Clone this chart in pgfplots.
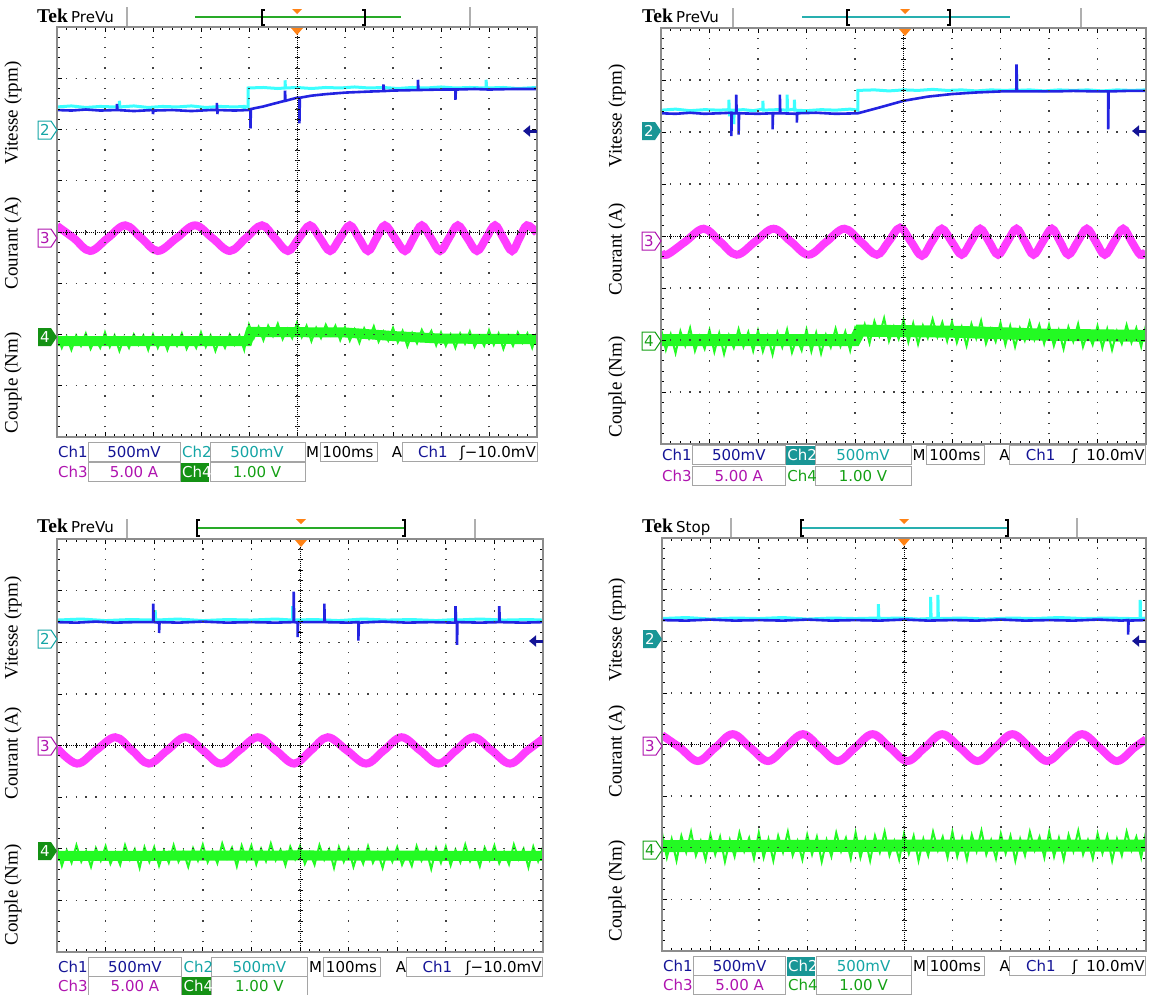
\documentclass[border=0pt]{standalone}
\usepackage{fontspec}
\setmainfont{Liberation Serif}
\newfontfamily\dvs{DejaVu Sans}
\usepackage{pgfplots}
\pgfplotsset{compat=1.18}
\usetikzlibrary{arrows.meta}

\definecolor{bordergray}{RGB}{140,140,140}
\definecolor{boxgray}{RGB}{165,165,165}
\definecolor{hdrgray}{RGB}{175,175,175}
\definecolor{ch1t}{RGB}{20,20,150}
\definecolor{ch2t}{RGB}{20,165,165}
\definecolor{ch3t}{RGB}{175,20,175}
\definecolor{ch4t}{RGB}{20,160,20}
\definecolor{ch2hl}{RGB}{25,150,150}
\definecolor{ch4hl}{RGB}{20,145,20}
\definecolor{bluetr}{RGB}{35,35,225}
\definecolor{cyantr}{RGB}{60,255,255}
\definecolor{magtr}{RGB}{255,60,255}
\definecolor{greentr}{RGB}{35,250,35}
\definecolor{tekorange}{RGB}{255,130,20}
\definecolor{hdrgreen}{RGB}{40,170,40}
\definecolor{hdrteal}{RGB}{40,175,175}

\newcommand{\tekfont}{\dvs\fontsize{15}{15}\selectfont}
\newcommand{\labfont}{\fontsize{19}{19}\selectfont}
\newcommand{\tekbig}{\bfseries\fontsize{19.5}{19.5}\selectfont}

\tikzset{tek/.style={font=\tekfont, inner sep=0pt, text height=11pt, text depth=0pt}}

\pgfplotsset{tekaxis/.style={
  scale only axis, xmin=0, xmax=10, ymin=-4, ymax=4,
  axis line style={draw=bordergray, line width=2.5pt},
  xtick={0,1,...,10}, ytick={-4,-3,...,4},
  minor x tick num=4, minor y tick num=4,
  xticklabels={}, yticklabels={},
  tick align=inside,
  major tick length=5pt, minor tick length=3pt,
  tick style={black, line width=0.7pt},
  grid=major,
  axis on top,
  clip=true,
}}

% info rows: #1 L, #2 scale, #3 Y1, #4 Y2, #5 mode (1: Ch4 highlighted, 2: Ch2 highlighted), #6 trigger text
\newcommand{\InfoRows}[6]{%
 \foreach \a/\b in {31/123,153/248,263/320,345/480}{%
  \draw[boxgray,line width=1pt,fill=white] ({#1+#2*\a},{-#3+9.5}) rectangle ({#1+#2*\b},{-#3-9.5});}
 \foreach \a/\b in {31/123,153/248}{%
  \draw[boxgray,line width=1pt,fill=white] ({#1+#2*\a},{-#4+9.5}) rectangle ({#1+#2*\b},{-#4-9.5});}
 \node[tek,anchor=west,text=ch1t] at ({#1+1},{-#3}) {Ch1};
 \node[tek,text=ch1t] at ({#1+#2*77},{-#3}) {500mV};
 \ifnum#5=2\relax
   \fill[ch2hl] ({#1+#2*124},{-#3+9.5}) rectangle ({#1+#2*152},{-#3-9.5});
   \node[tek,anchor=west,text=white] at ({#1+#2*124+1},{-#3}) {Ch2};
 \else
   \node[tek,anchor=west,text=ch2t] at ({#1+#2*124+1},{-#3}) {Ch2};
 \fi
 \node[tek,text=ch2t] at ({#1+#2*200},{-#3}) {500mV};
 \node[tek,anchor=west,text=black] at ({#1+#2*249},{-#3}) {M};
 \node[tek,text=black] at ({#1+#2*291},{-#3}) {100ms};
 \node[tek,text=black] at ({#1+#2*340},{-#3}) {A};
 \node[tek,anchor=west,text=ch1t] at ({#1+#2*361},{-#3}) {Ch1};
 \node[tek,anchor=east,text=black] at ({#1+#2*479},{-#3}) {#6};
 \node[tek,anchor=west,text=ch3t] at ({#1+1},{-#4}) {Ch3};
 \node[tek,text=ch3t] at ({#1+#2*77},{-#4}) {5.00 A};
 \ifnum#5=1\relax
   \fill[ch4hl] ({#1+#2*124},{-#4+9.5}) rectangle ({#1+#2*152},{-#4-9.5});
   \node[tek,anchor=west,text=white] at ({#1+#2*124+1},{-#4}) {Ch4};
 \else
   \node[tek,anchor=west,text=ch4t] at ({#1+#2*124+1},{-#4}) {Ch4};
 \fi
 \node[tek,text=ch4t] at ({#1+#2*200},{-#4}) {1.00 V};
}

% channel marker: #1 tip x, #2 y, #3 digit, #4 colour, #5 filled(1)/outline(0)
\newcommand{\ChMark}[5]{%
 \ifnum#5=1\relax
  \fill[#4] ({#1-19},{-#2+9}) -- ({#1-6},{-#2+9}) -- (#1,{-#2}) -- ({#1-6},{-#2-9}) -- ({#1-19},{-#2-9}) -- cycle;
  \node[tek,text=white] at ({#1-12},{-#2}) {#3};
 \else
  \draw[#4,line width=1pt,fill=white] ({#1-19},{-#2+9}) -- ({#1-6},{-#2+9}) -- (#1,{-#2}) -- ({#1-6},{-#2-9}) -- ({#1-19},{-#2-9}) -- cycle;
  \node[tek,text=#4] at ({#1-12},{-#2}) {#3};
 \fi}

% header: #1 Tek x, #2 baseline y, #3 status, #4 sep1, #5 sep2, #6 bottom y
\newcommand{\Header}[6]{%
 \node[anchor=base west,inner sep=0pt,font=\tekbig] at (#1,{-#2}) {Tek};
 \node[anchor=base west,inner sep=0pt,font=\tekfont] at ({#1+34},{-#2}) {#3};
 \draw[hdrgray,line width=1.2pt] (#4,{-#6+20}) -- (#4,{-#6}) -- (#5,{-#6}) -- (#5,{-#6+20});
}

\begin{document}
\begin{tikzpicture}[x=1pt,y=1pt]
\path[use as bounding box] (0,0) rectangle (1150,-994);

%================ PANEL 1 =================
\Header{37}{22}{PreVu}{127}{470}{27}
\draw[hdrgreen,line width=1.2pt] (195,-17) -- (401,-17);
\draw[black,line width=1.2pt] (265,-10) -- (262,-10) -- (262,-25) -- (265,-25);
\draw[black,line width=1.2pt] (362,-10) -- (365,-10) -- (365,-25) -- (362,-25);
\fill[tekorange] (292,-9) -- (302,-9) -- (297,-14) -- cycle;
\begin{axis}[tekaxis, at={(57pt,-27pt)}, anchor=north west, width=480pt, height=410pt,
  x grid style={black!75, line width=1.4pt, dash pattern=on 1.4pt off 8.85pt, dash phase=0.7pt},
  y grid style={black!75, line width=1.4pt, dash pattern=on 1.4pt off 8.2pt, dash phase=0.7pt}]
\addplot[greentr, line width=10pt] coordinates {(0,-2.13)(3.97,-2.13)(4.03,-1.95)(6.0,-1.96)(7.0,-2.03)(8.0,-2.08)(10,-2.09)};
\addplot[greentr, line width=2pt] coordinates {(0,-2.00)(0.1,-2.26)(0.2,-2.04)(0.3,-2.30)(0.4,-2.02)(0.5,-2.22)(0.6,-1.98)(0.7,-2.28)(0.8,-2.08)(0.9,-2.26)(1.0,-1.96)(1.1,-2.24)(1.2,-2.02)(1.3,-2.32)(1.4,-2.06)(1.5,-2.26)(1.6,-2.00)(1.7,-2.20)(1.8,-2.02)(1.9,-2.30)(2.0,-2.00)(2.1,-2.26)(2.2,-2.04)(2.3,-2.30)(2.4,-2.02)(2.5,-2.22)(2.6,-1.98)(2.7,-2.28)(2.8,-2.08)(2.9,-2.26)(3.0,-1.96)(3.1,-2.24)(3.2,-2.02)(3.3,-2.32)(3.4,-2.06)(3.5,-2.26)(3.6,-2.00)(3.7,-2.20)(3.8,-2.02)(3.9,-2.30)(4.0,-1.81)(4.1,-2.07)(4.2,-1.85)(4.3,-2.11)(4.4,-1.83)(4.5,-2.03)(4.6,-1.79)(4.7,-2.09)(4.8,-1.89)(4.9,-2.07)(5.0,-1.77)(5.1,-2.05)(5.2,-1.83)(5.3,-2.13)(5.4,-1.87)(5.5,-2.07)(5.6,-1.81)(5.7,-2.01)(5.8,-1.83)(5.9,-2.11)(6.0,-1.86)(6.1,-2.12)(6.2,-1.90)(6.3,-2.16)(6.4,-1.88)(6.5,-2.08)(6.6,-1.84)(6.7,-2.14)(6.8,-1.94)(6.9,-2.12)(7.0,-1.87)(7.1,-2.15)(7.2,-1.93)(7.3,-2.23)(7.4,-1.97)(7.5,-2.17)(7.6,-1.91)(7.7,-2.11)(7.8,-1.93)(7.9,-2.21)(8.0,-1.96)(8.1,-2.22)(8.2,-2.00)(8.3,-2.26)(8.4,-1.98)(8.5,-2.18)(8.6,-1.94)(8.7,-2.24)(8.8,-2.04)(8.9,-2.22)(9.0,-1.92)(9.1,-2.20)(9.2,-1.98)(9.3,-2.28)(9.4,-2.02)(9.5,-2.22)(9.6,-1.96)(9.7,-2.16)(9.8,-1.98)(9.9,-2.26)(10.0,-1.96)};
\addplot[magtr, line width=8pt, smooth, tension=0.6] coordinates {(0,0.12)(0.35,-0.12)(0.69,-0.37)(1.055,-0.12)(1.42,0.13)(1.76,-0.12)(2.10,-0.37)(2.49,-0.12)(2.875,0.13)(3.24,-0.12)(3.60,-0.37)(3.935,-0.12)(4.27,0.13)(4.54,-0.12)(4.81,-0.37)(5.04,-0.12)(5.27,0.13)(5.48,-0.12)(5.69,-0.37)(5.895,-0.12)(6.10,0.13)(6.29,-0.12)(6.48,-0.37)(6.655,-0.12)(6.83,0.13)(7.04,-0.12)(7.25,-0.37)(7.425,-0.12)(7.60,0.13)(7.79,-0.12)(7.98,-0.37)(8.165,-0.12)(8.35,0.13)(8.55,-0.12)(8.75,-0.37)(8.94,-0.12)(9.125,0.13)(9.30,-0.12)(9.48,-0.37)(9.635,-0.12)(9.79,0.13)(10,-0.02)};
\addplot[cyantr, line width=3pt] coordinates {(0,2.44)(0.3,2.46)(0.6,2.43)(0.9,2.45)(1.2,2.44)(1.3,2.44)(1.3,2.56)(1.31,2.44)(1.6,2.46)(1.9,2.43)(2.2,2.45)(2.5,2.44)(2.8,2.46)(3.1,2.43)(3.4,2.45)(3.7,2.44)(3.9,2.45)(3.9,2.36)(3.91,2.44)(3.98,2.44)(3.98,2.81)(4.3,2.82)(4.6,2.80)(4.75,2.81)(4.75,2.96)(4.76,2.81)(5.0,2.82)(5.3,2.80)(5.6,2.82)(5.9,2.81)(6.2,2.83)(6.5,2.81)(6.8,2.82)(7.1,2.80)(7.4,2.82)(7.7,2.81)(8.0,2.83)(8.3,2.81)(8.6,2.82)(8.94,2.81)(8.94,2.97)(8.95,2.81)(9.3,2.82)(9.6,2.80)(10,2.82)};
\addplot[bluetr, line width=2.6pt] coordinates {(0,2.38)(0.3,2.37)(0.6,2.39)(0.9,2.37)(1.25,2.38)(1.25,2.50)(1.26,2.38)(1.6,2.36)(2.0,2.38)(2.0,2.30)(2.01,2.37)(2.4,2.38)(2.8,2.36)(3.2,2.38)(3.33,2.38)(3.33,2.52)(3.34,2.37)(3.34,2.30)(3.35,2.38)(3.7,2.37)(3.98,2.38)(4.03,2.39)(4.03,2.02)(4.04,2.40)(4.3,2.45)(4.5,2.50)(4.75,2.56)(4.75,2.76)(4.76,2.56)(5.0,2.62)(5.05,2.62)(5.05,2.12)(5.06,2.62)(5.3,2.66)(5.6,2.69)(6.0,2.72)(6.5,2.74)(6.8,2.75)(6.8,2.88)(6.81,2.75)(7.0,2.76)(7.52,2.77)(7.52,2.97)(7.53,2.77)(8.0,2.78)(8.3,2.78)(8.3,2.58)(8.31,2.78)(8.7,2.79)(9.0,2.78)(9.5,2.79)(10,2.79)};
\draw[black, line width=1pt, dash pattern=on 1pt off 1pt] (axis cs:0,0) -- (axis cs:10,0);
\draw[black, line width=1pt, dash pattern=on 1pt off 1pt] (axis cs:5,-4) -- (axis cs:5,4);
\draw[black, line width=5pt, dash pattern=on 0.8pt off 8.8pt, dash phase=0.4pt] (axis cs:0,0) -- (axis cs:10,0);
\draw[black, line width=5pt, dash pattern=on 0.8pt off 9.45pt, dash phase=0.4pt] (axis cs:5,-4) -- (axis cs:5,4);
\end{axis}
\fill[tekorange] (291,-28) -- (303,-28) -- (297,-35) -- cycle;
\draw[ch1t, line width=3pt, -{Triangle[length=7pt,width=11pt]}] (537,-131) -- (523,-131);
\ChMark{57}{130}{2}{ch2t}{0}
\ChMark{57}{238}{3}{ch3t}{0}
\ChMark{57}{337}{4}{ch4hl}{1}
\node[rotate=90,font=\labfont] at (13,-113) {Vitesse (rpm)};
\node[rotate=90,font=\labfont] at (13,-243) {Courant (A)};
\node[rotate=90,font=\labfont] at (13,-383) {Couple (Nm)};
\InfoRows{57}{1}{452}{472}{1}{ʃ−10.0mV}

%================ PANEL 2 =================
\Header{642}{22}{PreVu}{733}{1081}{28}
\draw[hdrteal,line width=1.2pt] (802,-17) -- (1010,-17);
\draw[black,line width=1.2pt] (850,-10) -- (847,-10) -- (847,-25) -- (850,-25);
\draw[black,line width=1.2pt] (947,-10) -- (950,-10) -- (950,-25) -- (947,-25);
\fill[tekorange] (900,-9) -- (910,-9) -- (905,-14) -- cycle;
\begin{axis}[tekaxis, at={(661pt,-28pt)}, anchor=north west, width=485pt, height=416pt,
  x grid style={black!75, line width=1.4pt, dash pattern=on 1.4pt off 9.0pt, dash phase=0.7pt},
  y grid style={black!75, line width=1.4pt, dash pattern=on 1.4pt off 8.3pt, dash phase=0.7pt}]
\addplot[greentr, line width=12pt] coordinates {(0,-2.0)(4.0,-2.0)(4.1,-1.82)(6.0,-1.84)(8.0,-1.90)(10,-1.92)};
\addplot[greentr, line width=2pt] coordinates {(0,-1.79)(0.1,-2.19)(0.2,-1.89)(0.3,-2.25)(0.4,-1.83)(0.5,-2.11)(0.6,-1.77)(0.7,-2.21)(0.8,-1.93)(0.9,-2.17)(1.0,-1.81)(1.1,-2.23)(1.2,-1.87)(1.3,-2.27)(1.4,-1.91)(1.5,-2.15)(1.6,-1.79)(1.7,-2.13)(1.8,-1.85)(1.9,-2.21)(2.0,-1.82)(2.1,-2.22)(2.2,-1.92)(2.3,-2.28)(2.4,-1.86)(2.5,-2.14)(2.6,-1.80)(2.7,-2.24)(2.8,-1.96)(2.9,-2.20)(3.0,-1.80)(3.1,-2.22)(3.2,-1.86)(3.3,-2.26)(3.4,-1.90)(3.5,-2.14)(3.6,-1.78)(3.7,-2.12)(3.8,-1.84)(3.9,-2.20)(4.0,-1.78)(4.1,-2.00)(4.2,-1.70)(4.3,-2.06)(4.4,-1.64)(4.5,-1.92)(4.6,-1.58)(4.7,-2.02)(4.8,-1.74)(4.9,-1.98)(5.0,-1.62)(5.1,-2.04)(5.2,-1.68)(5.3,-2.08)(5.4,-1.72)(5.5,-1.96)(5.6,-1.60)(5.7,-1.94)(5.8,-1.66)(5.9,-2.02)(6.0,-1.65)(6.1,-2.05)(6.2,-1.75)(6.3,-2.11)(6.4,-1.69)(6.5,-1.97)(6.6,-1.63)(6.7,-2.07)(6.8,-1.79)(6.9,-2.03)(7.0,-1.67)(7.1,-2.09)(7.2,-1.73)(7.3,-2.13)(7.4,-1.77)(7.5,-2.01)(7.6,-1.65)(7.7,-1.99)(7.8,-1.71)(7.9,-2.07)(8.0,-1.71)(8.1,-2.11)(8.2,-1.81)(8.3,-2.17)(8.4,-1.75)(8.5,-2.03)(8.6,-1.69)(8.7,-2.13)(8.8,-1.85)(8.9,-2.09)(9.0,-1.73)(9.1,-2.15)(9.2,-1.79)(9.3,-2.19)(9.4,-1.83)(9.5,-2.07)(9.6,-1.71)(9.7,-2.05)(9.8,-1.77)(9.9,-2.13)(10.0,-1.71)};
\addplot[magtr, line width=8pt, smooth, tension=0.6] coordinates {(0,-0.30)(0.12,-0.36)(0.50,-0.11)(0.88,0.14)(1.22,-0.11)(1.56,-0.36)(1.94,-0.11)(2.32,0.14)(2.68,-0.11)(3.04,-0.36)(3.41,-0.11)(3.78,0.14)(4.12,-0.11)(4.45,-0.36)(4.69,-0.11)(4.93,0.16)(5.155,-0.11)(5.38,-0.38)(5.585,-0.11)(5.79,0.14)(5.995,-0.11)(6.20,-0.36)(6.39,-0.11)(6.58,0.14)(6.765,-0.11)(6.95,-0.36)(7.14,-0.11)(7.33,0.14)(7.505,-0.11)(7.68,-0.36)(7.87,-0.11)(8.06,0.14)(8.23,-0.11)(8.40,-0.36)(8.59,-0.11)(8.78,0.14)(8.965,-0.11)(9.15,-0.36)(9.34,-0.11)(9.53,0.14)(9.705,-0.11)(9.88,-0.36)(10,-0.30)};
\addplot[cyantr, line width=3pt] coordinates {(0,2.42)(0.3,2.44)(0.6,2.41)(0.9,2.43)(1.2,2.42)(1.4,2.43)(1.4,2.62)(1.41,2.30)(1.42,2.42)(1.5,2.42)(1.5,2.15)(1.51,2.42)(1.7,2.43)(1.9,2.41)(2.1,2.44)(2.1,2.60)(2.11,2.42)(2.4,2.43)(2.6,2.42)(2.6,2.72)(2.61,2.42)(2.75,2.44)(2.75,2.62)(2.76,2.42)(3.0,2.41)(3.3,2.43)(3.6,2.42)(3.9,2.44)(4.06,2.42)(4.06,2.80)(4.4,2.81)(4.7,2.79)(5.0,2.81)(5.3,2.80)(5.6,2.82)(5.9,2.80)(6.2,2.81)(6.5,2.79)(6.8,2.81)(7.1,2.80)(7.33,2.81)(7.33,3.20)(7.34,2.80)(7.6,2.81)(7.9,2.79)(8.2,2.81)(8.5,2.80)(8.8,2.81)(9.1,2.79)(9.4,2.81)(9.7,2.80)(10,2.81)};
\addplot[bluetr, line width=2.6pt] coordinates {(0,2.36)(0.3,2.35)(0.6,2.37)(0.9,2.35)(1.2,2.36)(1.45,2.37)(1.45,1.92)(1.46,2.36)(1.55,2.36)(1.55,2.72)(1.56,2.36)(1.6,2.36)(1.6,1.95)(1.61,2.36)(2.0,2.35)(2.3,2.36)(2.3,2.05)(2.31,2.36)(2.45,2.36)(2.45,2.72)(2.46,2.36)(2.8,2.35)(2.8,2.18)(2.81,2.36)(3.2,2.37)(3.6,2.35)(4.06,2.36)(4.5,2.47)(5.0,2.60)(5.5,2.68)(6.0,2.73)(6.5,2.76)(7.0,2.78)(7.33,2.78)(7.33,3.30)(7.34,2.78)(7.7,2.78)(8.1,2.78)(8.5,2.79)(9.0,2.78)(9.22,2.78)(9.22,2.05)(9.23,2.78)(9.6,2.79)(10,2.79)};
\draw[black, line width=1pt, dash pattern=on 1pt off 1pt] (axis cs:0,0) -- (axis cs:10,0);
\draw[black, line width=1pt, dash pattern=on 1pt off 1pt] (axis cs:5,-4) -- (axis cs:5,4);
\draw[black, line width=5pt, dash pattern=on 0.8pt off 8.9pt, dash phase=0.4pt] (axis cs:0,0) -- (axis cs:10,0);
\draw[black, line width=5pt, dash pattern=on 0.8pt off 9.6pt, dash phase=0.4pt] (axis cs:5,-4) -- (axis cs:5,4);
\end{axis}
\fill[tekorange] (899,-29) -- (911,-29) -- (905,-36) -- cycle;
\draw[ch1t, line width=3pt, -{Triangle[length=7pt,width=11pt]}] (1146,-131) -- (1132,-131);
\ChMark{661}{131}{2}{ch2hl}{1}
\ChMark{661}{241}{3}{ch3t}{0}
\ChMark{661}{341}{4}{ch4t}{0}
\node[rotate=90,font=\labfont] at (617,-116) {Vitesse (rpm)};
\node[rotate=90,font=\labfont] at (617,-249) {Courant (A)};
\node[rotate=90,font=\labfont] at (617,-387) {Couple (Nm)};
\InfoRows{661}{1.01}{455}{476}{2}{ʃ\hspace{9pt}10.0mV}

%================ PANEL 3 =================
\Header{37}{532}{PreVu}{127}{475}{539}
\draw[hdrgreen,line width=1.2pt] (197,-528) -- (405,-528);
\draw[black,line width=1.2pt] (200,-520) -- (197,-520) -- (197,-536) -- (200,-536);
\draw[black,line width=1.2pt] (402,-520) -- (405,-520) -- (405,-536) -- (402,-536);
\fill[tekorange] (296,-519) -- (306,-519) -- (301,-524) -- cycle;
\begin{axis}[tekaxis, at={(57pt,-539pt)}, anchor=north west, width=486pt, height=413pt,
  x grid style={black!75, line width=1.4pt, dash pattern=on 1.4pt off 8.93pt, dash phase=0.7pt},
  y grid style={black!75, line width=1.4pt, dash pattern=on 1.4pt off 8.32pt, dash phase=0.7pt}]
\addplot[greentr, line width=10pt] coordinates {(0,-2.14)(5,-2.13)(10,-2.14)};
\addplot[greentr, line width=2pt] coordinates {(0,-1.97)(0.1,-2.33)(0.2,-2.03)(0.3,-2.27)(0.4,-1.93)(0.5,-2.25)(0.6,-2.05)(0.7,-2.35)(0.8,-1.99)(0.9,-2.23)(1.0,-1.95)(1.1,-2.29)(1.2,-2.07)(1.3,-2.31)(1.4,-1.93)(1.5,-2.21)(1.6,-2.01)(1.7,-2.37)(1.8,-1.97)(1.9,-2.25)(2.0,-1.97)(2.1,-2.33)(2.2,-2.03)(2.3,-2.27)(2.4,-1.93)(2.5,-2.25)(2.6,-2.05)(2.7,-2.35)(2.8,-1.99)(2.9,-2.23)(3.0,-1.92)(3.1,-2.26)(3.2,-2.04)(3.3,-2.28)(3.4,-1.90)(3.5,-2.18)(3.6,-1.98)(3.7,-2.34)(3.8,-1.94)(3.9,-2.22)(4.0,-1.94)(4.1,-2.30)(4.2,-2.00)(4.3,-2.24)(4.4,-1.90)(4.5,-2.22)(4.6,-2.02)(4.7,-2.32)(4.8,-1.96)(4.9,-2.20)(5.0,-1.95)(5.1,-2.29)(5.2,-2.07)(5.3,-2.31)(5.4,-1.93)(5.5,-2.21)(5.6,-2.01)(5.7,-2.37)(5.8,-1.97)(5.9,-2.25)(6.0,-1.99)(6.1,-2.35)(6.2,-2.05)(6.3,-2.29)(6.4,-1.95)(6.5,-2.27)(6.6,-2.07)(6.7,-2.37)(6.8,-2.01)(6.9,-2.25)(7.0,-1.97)(7.1,-2.31)(7.2,-2.09)(7.3,-2.33)(7.4,-1.95)(7.5,-2.23)(7.6,-2.03)(7.7,-2.39)(7.8,-1.99)(7.9,-2.27)(8.0,-1.96)(8.1,-2.32)(8.2,-2.02)(8.3,-2.26)(8.4,-1.92)(8.5,-2.24)(8.6,-2.04)(8.7,-2.34)(8.8,-1.98)(8.9,-2.22)(9.0,-1.94)(9.1,-2.28)(9.2,-2.06)(9.3,-2.30)(9.4,-1.92)(9.5,-2.20)(9.6,-2.00)(9.7,-2.36)(9.8,-1.96)(9.9,-2.24)(10.0,-1.96)};
\addplot[magtr, line width=8pt, smooth, tension=0.6] coordinates {(0,-0.05)(0.41,-0.35)(0.80,-0.095)(1.20,0.16)(1.545,-0.095)(1.89,-0.35)(2.265,-0.095)(2.64,0.16)(3.005,-0.095)(3.37,-0.35)(3.75,-0.095)(4.13,0.16)(4.505,-0.095)(4.88,-0.35)(5.225,-0.095)(5.57,0.16)(5.965,-0.095)(6.36,-0.35)(6.725,-0.095)(7.09,0.16)(7.47,-0.095)(7.85,-0.35)(8.21,-0.095)(8.57,0.16)(8.945,-0.095)(9.32,-0.35)(9.68,-0.095)(10,0.13)};
\addplot[cyantr, line width=3pt] coordinates {(0,2.43)(0.5,2.45)(1.0,2.42)(1.5,2.44)(2.0,2.43)(2.02,2.44)(2.02,2.62)(2.03,2.43)(2.5,2.45)(3.0,2.42)(3.5,2.44)(4.0,2.43)(4.5,2.45)(4.85,2.43)(4.85,2.70)(4.86,2.43)(5.3,2.44)(5.8,2.42)(6.3,2.45)(6.8,2.43)(7.3,2.44)(7.8,2.42)(8.2,2.44)(8.2,2.62)(8.21,2.43)(8.7,2.45)(9.2,2.43)(9.7,2.44)(10,2.43)};
\addplot[bluetr, line width=2.6pt] coordinates {(0,2.39)(0.4,2.38)(0.8,2.40)(1.2,2.38)(1.6,2.39)(1.98,2.39)(1.98,2.75)(1.99,2.39)(2.1,2.38)(2.1,2.18)(2.11,2.39)(2.5,2.38)(3.0,2.40)(3.5,2.38)(4.0,2.39)(4.5,2.38)(4.87,2.39)(4.87,2.98)(4.88,2.39)(4.95,2.38)(4.95,2.10)(4.96,2.39)(5.5,2.39)(5.5,2.75)(5.51,2.39)(6.0,2.38)(6.2,2.39)(6.2,2.03)(6.21,2.38)(6.7,2.40)(7.2,2.38)(7.7,2.39)(8.2,2.38)(8.2,2.70)(8.21,2.38)(8.23,2.38)(8.23,1.95)(8.24,2.39)(8.7,2.38)(9.1,2.39)(9.1,2.70)(9.11,2.39)(9.6,2.38)(10,2.39)};
\draw[black, line width=1pt, dash pattern=on 1pt off 1pt] (axis cs:0,0) -- (axis cs:10,0);
\draw[black, line width=1pt, dash pattern=on 1pt off 1pt] (axis cs:5,-4) -- (axis cs:5,4);
\draw[black, line width=5pt, dash pattern=on 0.8pt off 8.92pt, dash phase=0.4pt] (axis cs:0,0) -- (axis cs:10,0);
\draw[black, line width=5pt, dash pattern=on 0.8pt off 9.52pt, dash phase=0.4pt] (axis cs:5,-4) -- (axis cs:5,4);
\end{axis}
\fill[tekorange] (295,-540) -- (307,-540) -- (301,-547) -- cycle;
\draw[ch1t, line width=3pt, -{Triangle[length=7pt,width=11pt]}] (543,-641) -- (529,-641);
\ChMark{57}{639}{2}{ch2t}{0}
\ChMark{57}{746}{3}{ch3t}{0}
\ChMark{57}{851}{4}{ch4hl}{1}
\node[rotate=90,font=\labfont] at (13,-628) {Vitesse (rpm)};
\node[rotate=90,font=\labfont] at (13,-753) {Courant (A)};
\node[rotate=90,font=\labfont] at (13,-895) {Couple (Nm)};
\InfoRows{57}{1.012}{967}{986}{1}{ʃ−10.0mV}

%================ PANEL 4 =================
\Header{642}{532}{Stop}{731}{1077}{538}
\draw[hdrteal,line width=1.2pt] (801,-528) -- (1008,-528);
\draw[black,line width=1.2pt] (804,-520) -- (801,-520) -- (801,-536) -- (804,-536);
\draw[black,line width=1.2pt] (1005,-520) -- (1008,-520) -- (1008,-536) -- (1005,-536);
\fill[tekorange] (899,-519) -- (909,-519) -- (904,-524) -- cycle;
\begin{axis}[tekaxis, at={(662pt,-538pt)}, anchor=north west, width=484pt, height=413pt,
  x grid style={black!75, line width=1.4pt, dash pattern=on 1.4pt off 8.93pt, dash phase=0.7pt},
  y grid style={black!75, line width=1.4pt, dash pattern=on 1.4pt off 8.28pt, dash phase=0.7pt}]
\addplot[greentr, line width=12pt] coordinates {(0,-1.97)(5,-1.96)(10,-1.96)};
\addplot[greentr, line width=2pt] coordinates {(0,-1.71)(0.1,-2.19)(0.2,-1.83)(0.3,-2.25)(0.4,-1.77)(0.5,-2.09)(0.6,-1.69)(0.7,-2.15)(0.8,-1.87)(0.9,-2.23)(1.0,-1.75)(1.1,-2.13)(1.2,-1.79)(1.3,-2.27)(1.4,-1.85)(1.5,-2.17)(1.6,-1.71)(1.7,-2.07)(1.8,-1.81)(1.9,-2.21)(2.0,-1.71)(2.1,-2.19)(2.2,-1.83)(2.3,-2.25)(2.4,-1.77)(2.5,-2.09)(2.6,-1.69)(2.7,-2.15)(2.8,-1.87)(2.9,-2.23)(3.0,-1.75)(3.1,-2.13)(3.2,-1.79)(3.3,-2.27)(3.4,-1.85)(3.5,-2.17)(3.6,-1.71)(3.7,-2.07)(3.8,-1.81)(3.9,-2.21)(4.0,-1.71)(4.1,-2.19)(4.2,-1.83)(4.3,-2.25)(4.4,-1.77)(4.5,-2.09)(4.6,-1.69)(4.7,-2.15)(4.8,-1.87)(4.9,-2.23)(5.0,-1.73)(5.1,-2.11)(5.2,-1.77)(5.3,-2.25)(5.4,-1.83)(5.5,-2.15)(5.6,-1.69)(5.7,-2.05)(5.8,-1.79)(5.9,-2.19)(6.0,-1.69)(6.1,-2.17)(6.2,-1.81)(6.3,-2.23)(6.4,-1.75)(6.5,-2.07)(6.6,-1.67)(6.7,-2.13)(6.8,-1.85)(6.9,-2.21)(7.0,-1.73)(7.1,-2.11)(7.2,-1.77)(7.3,-2.25)(7.4,-1.83)(7.5,-2.15)(7.6,-1.69)(7.7,-2.05)(7.8,-1.79)(7.9,-2.19)(8.0,-1.69)(8.1,-2.17)(8.2,-1.81)(8.3,-2.23)(8.4,-1.75)(8.5,-2.07)(8.6,-1.67)(8.7,-2.13)(8.8,-1.85)(8.9,-2.21)(9.0,-1.73)(9.1,-2.11)(9.2,-1.77)(9.3,-2.25)(9.4,-1.83)(9.5,-2.15)(9.6,-1.69)(9.7,-2.05)(9.8,-1.79)(9.9,-2.19)(10.0,-1.69)};
\addplot[magtr, line width=8pt, smooth, tension=0.6] coordinates {(0,0.18)(0.37,-0.06)(0.74,-0.32)(1.10,-0.06)(1.46,0.20)(1.825,-0.06)(2.19,-0.32)(2.55,-0.06)(2.91,0.20)(3.27,-0.06)(3.63,-0.32)(3.99,-0.06)(4.35,0.20)(4.71,-0.06)(5.07,-0.32)(5.43,-0.06)(5.79,0.20)(6.155,-0.06)(6.52,-0.32)(6.88,-0.06)(7.24,0.20)(7.60,-0.06)(7.96,-0.32)(8.32,-0.06)(8.68,0.20)(9.04,-0.06)(9.40,-0.32)(9.76,-0.06)(10,0.10)};
\addplot[cyantr, line width=3pt] coordinates {(0,2.44)(0.5,2.46)(1.0,2.43)(1.5,2.45)(2.0,2.44)(2.5,2.46)(3.0,2.43)(3.5,2.45)(4.0,2.44)(4.47,2.45)(4.47,2.72)(4.48,2.44)(4.9,2.45)(5.3,2.43)(5.55,2.44)(5.55,2.86)(5.56,2.44)(5.7,2.45)(5.7,2.90)(5.71,2.44)(6.2,2.45)(6.7,2.43)(7.2,2.45)(7.7,2.44)(8.2,2.46)(8.7,2.44)(9.2,2.45)(9.7,2.44)(9.88,2.44)(9.88,2.80)(9.89,2.44)(10,2.45)};
\addplot[bluetr, line width=2.6pt] coordinates {(0,2.41)(0.5,2.40)(1.0,2.42)(1.5,2.40)(2.0,2.41)(2.5,2.40)(3.0,2.42)(3.5,2.40)(4.0,2.41)(4.5,2.40)(5.0,2.42)(5.5,2.40)(6.0,2.41)(6.5,2.40)(7.0,2.42)(7.5,2.40)(8.0,2.41)(8.5,2.40)(9.0,2.42)(9.5,2.40)(9.63,2.41)(9.63,2.13)(9.64,2.40)(10,2.41)};
\draw[black, line width=1pt, dash pattern=on 1pt off 1pt] (axis cs:0,0) -- (axis cs:10,0);
\draw[black, line width=1pt, dash pattern=on 1pt off 1pt] (axis cs:5,-4) -- (axis cs:5,4);
\draw[black, line width=5pt, dash pattern=on 0.8pt off 8.88pt, dash phase=0.4pt] (axis cs:0,0) -- (axis cs:10,0);
\draw[black, line width=5pt, dash pattern=on 0.8pt off 9.52pt, dash phase=0.4pt] (axis cs:5,-4) -- (axis cs:5,4);
\end{axis}
\fill[tekorange] (898,-539) -- (910,-539) -- (904,-546) -- cycle;
\draw[ch1t, line width=3pt, -{Triangle[length=7pt,width=11pt]}] (1146,-641) -- (1132,-641);
\ChMark{662}{639}{2}{ch2hl}{1}
\ChMark{662}{746}{3}{ch3t}{0}
\ChMark{662}{850}{4}{ch4t}{0}
\node[rotate=90,font=\labfont] at (617,-630) {Vitesse (rpm)};
\node[rotate=90,font=\labfont] at (617,-751) {Courant (A)};
\node[rotate=90,font=\labfont] at (617,-891) {Couple (Nm)};
\InfoRows{662}{1.008}{966}{985}{2}{ʃ\hspace{9pt}10.0mV}

\end{tikzpicture}
\end{document}
